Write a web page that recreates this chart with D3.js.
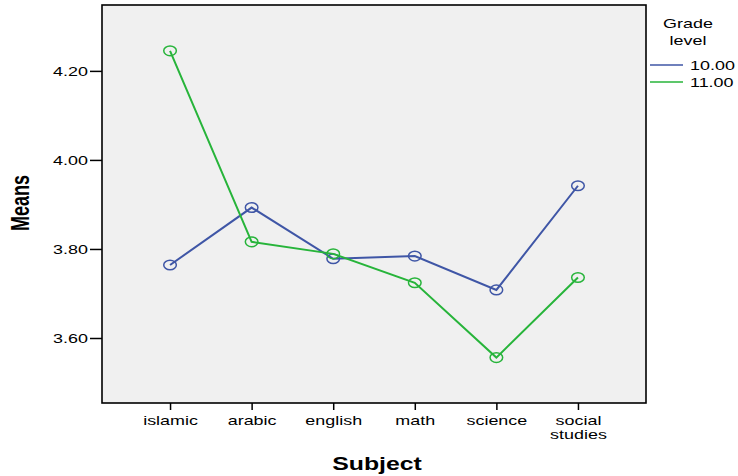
<!DOCTYPE html>
<html><head><meta charset="utf-8">
<script src="https://cdn.jsdelivr.net/npm/d3@7"></script>
<style>body{margin:0;background:#fff}svg{display:block}text{font-family:"Liberation Sans",Arial,sans-serif;fill:#000}</style>
</head><body>
<svg id="c" width="738" height="476"></svg>
<script>
const subjects = ["islamic","arabic","english","math","science","social studies"];
const grade10 = [3.764, 3.893, 3.778, 3.784, 3.708, 3.942];
const grade11 = [4.245, 3.816, 3.789, 3.724, 3.556, 3.736];
const seriesNames = ["10.00","11.00"];
const seriesColors = ["#3f56a6","#27b43a"];
const yTicks = [3.6, 3.8, 4.0, 4.2];
const yDomain = [3.454, 4.348];

const SX = 1.38;
const svg = d3.select("#c");
const L = 102, R = 646, T = 5, B = 403;
const x = d3.scalePoint().domain(subjects).range([L, R]).padding(0.834);
const y = d3.scaleLinear().domain(yDomain).range([B, T]);

svg.append("rect").attr("x", L).attr("y", T).attr("width", R - L).attr("height", B - T)
  .attr("fill", "#f0f0f0").attr("stroke", "#000").attr("stroke-width", 1.6);

// y axis
const gy = svg.append("g").attr("transform", `translate(${L},0)`)
  .call(d3.axisLeft(y).tickValues(yTicks).tickFormat(d3.format(".2f")).tickSize(12).tickPadding(2));
gy.select(".domain").remove();
gy.selectAll(".tick line").attr("stroke", "#000").attr("stroke-width", 1.5);
gy.selectAll(".tick text").each(function(){
  const t = d3.select(this);
  const xx = +t.attr("x");
  t.attr("x", null).attr("transform", `translate(${xx},0) scale(${SX},1)`);
}).style("font-size", "13px").attr("fill", "#000");

// x axis
const gx = svg.append("g").attr("transform", `translate(0,${B})`)
  .call(d3.axisBottom(x).tickSize(7).tickFormat(""));
gx.select(".domain").remove();
gx.selectAll(".tick line").attr("stroke", "#000").attr("stroke-width", 1.5);
gx.selectAll(".tick").each(function(d){
  const words = d.split(" ");
  const t = d3.select(this).append("text").attr("text-anchor", "middle")
    .attr("transform", `translate(0,22) scale(${SX},1)`).style("font-size", "13px");
  words.forEach((w, i) => t.append("tspan").attr("x", 0).attr("dy", i === 0 ? 0 : 14).text(w));
});

// lines
const data = [grade10, grade11];
const line = d3.line().x((d, i) => x(subjects[i])).y(d => y(d));
data.forEach((s, k) => {
  svg.append("path").datum(s).attr("d", line).attr("fill", "none")
    .attr("stroke", seriesColors[k]).attr("stroke-width", 2);
  svg.selectAll(null).data(s).enter().append("ellipse")
    .attr("cx", (d, i) => x(subjects[i])).attr("cy", d => y(d))
    .attr("rx", 6.3).attr("ry", 4.8).attr("fill", "none")
    .attr("stroke", seriesColors[k]).attr("stroke-width", 1.5);
});

// axis titles
svg.append("text").attr("text-anchor", "middle")
  .attr("transform", `translate(377,470) scale(${SX},1)`)
  .style("font-size", "18px").style("font-weight", "bold").text("Subject");
svg.append("text").attr("text-anchor", "middle")
  .attr("transform", `translate(29,203) rotate(-90) scale(1,${SX})`)
  .style("font-size", "18px").style("font-weight", "bold").text("Means");

// legend
const lg = svg.append("g");
lg.append("text").attr("text-anchor", "middle").attr("transform", `translate(688,28) scale(${SX},1)`)
  .style("font-size", "13px").text("Grade");
lg.append("text").attr("text-anchor", "middle").attr("transform", `translate(688,45) scale(${SX},1)`)
  .style("font-size", "13px").text("level");
seriesNames.forEach((n, k) => {
  const yy = 65 + k * 17;
  lg.append("line").attr("x1", 650).attr("x2", 683).attr("y1", yy).attr("y2", yy)
    .attr("stroke", seriesColors[k]).attr("stroke-width", 1.5);
  lg.append("text").attr("transform", `translate(690,${yy + 5}) scale(${SX},1)`)
    .style("font-size", "13px").text(n);
});
</script>
</body></html>
